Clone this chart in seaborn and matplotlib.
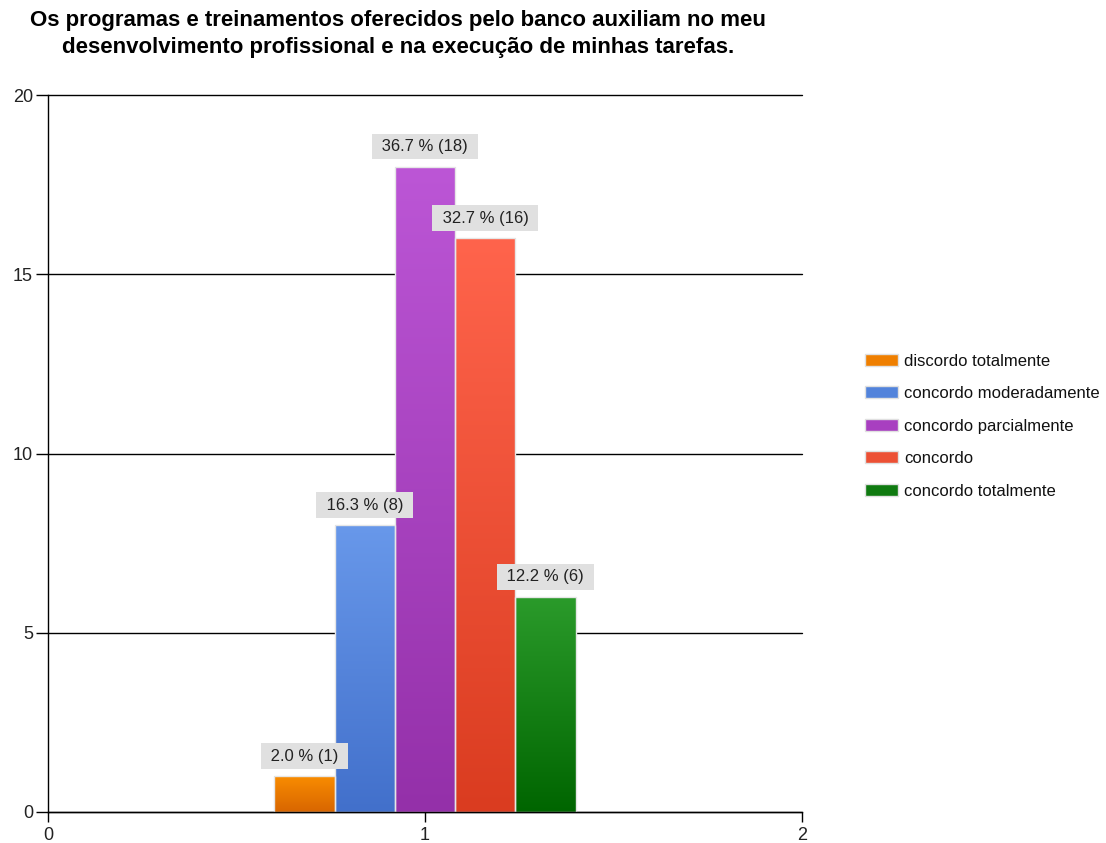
import numpy as np
import pandas as pd
import matplotlib
matplotlib.use("Agg")
import matplotlib.pyplot as plt
from matplotlib.colors import LinearSegmentedColormap
from matplotlib.patches import Patch
import seaborn as sns

# Survey answers and counts
categories = ["discordo totalmente", "concordo moderadamente", "concordo parcialmente",
              "concordo", "concordo totalmente"]
counts = [1, 8, 18, 16, 6]
percents = [2.0, 16.3, 36.7, 32.7, 12.2]
x_position = [1, 1, 1, 1, 1]

# Gradient colours per series (top, bottom)
top_colors = ["#f98c00", "#6898ea", "#bc56d6", "#ff644c", "#2b9b2b"]
bottom_colors = ["#d86600", "#4270cb", "#9430a9", "#da3c20", "#006500"]
legend_colors = ["#ef7f00", "#5283db", "#a83fc0", "#ec5034", "#0f7a10"]

title = ("Os programas e treinamentos oferecidos pelo banco auxiliam no meu\n"
         "desenvolvimento profissional e na execução de minhas tarefas.")

sns.set_theme(style="white")
plt.rcParams["font.family"] = ["Liberation Sans", "DejaVu Sans"]

df = pd.DataFrame({"pos": x_position, "resposta": categories, "n": counts})

fig = plt.figure(figsize=(11.06, 8.43), dpi=100)
ax = fig.add_axes([48 / 1106, 1 - 812 / 843, (802 - 48) / 1106, (812 - 95) / 843])

palette = dict(zip(categories, legend_colors))
sns.barplot(data=df, x="pos", y="n", hue="resposta", hue_order=categories,
            palette=palette, native_scale=True, width=0.8, ax=ax,
            legend=False, edgecolor="#e6e6e6", linewidth=1, saturation=1,
            errorbar=None)

# Vertical gradient inside every bar, value label above it
grad = np.linspace(0, 1, 256).reshape(-1, 1)
for container, c_top, c_bot, pct, n in zip(ax.containers, top_colors, bottom_colors,
                                          percents, counts):
    for bar in container:
        x0, w, h = bar.get_x(), bar.get_width(), bar.get_height()
        cmap = LinearSegmentedColormap.from_list("g", [c_bot, c_top])
        im = ax.imshow(grad, extent=[x0, x0 + w, 0, h], origin="lower",
                       aspect="auto", cmap=cmap, zorder=1.5, interpolation="bilinear")
        im.set_clip_path(bar)
        bar.set_facecolor("none")
        bar.set_zorder(2)
        ax.annotate(f" {pct:.1f} % ({n}) ", xy=(x0 + w / 2, h), xytext=(0, 14.5),
                    textcoords="offset points", ha="center", va="center",
                    fontsize=12, color="#222222", zorder=4,
                    bbox=dict(boxstyle="square,pad=0.32", fc="#e0e0e0", ec="none"))

ax.set_xlim(0, 2)
ax.set_ylim(0, 20)
ax.set_aspect("auto")

ax.set_xticks([0, 1, 2])
ax.set_xticklabels(["0", "1", "2"])
ax.set_yticks([0, 5, 10, 15, 20])
ax.set_xlabel("")
ax.set_ylabel("")
ax.tick_params(axis="both", direction="out", width=1, color="black",
               labelsize=13, labelcolor="#222222", bottom=True, left=True)
ax.tick_params(axis="x", length=7.2, pad=3.6)
ax.tick_params(axis="y", length=8.6, pad=2.2)

ax.grid(axis="y", color="black", linewidth=1)
ax.grid(axis="x", visible=False)
for gl in ax.get_ygridlines():
    gl.set_clip_on(False)
ax.set_axisbelow(True)

for side in ["top", "right"]:
    ax.spines[side].set_visible(False)
for side in ["left", "bottom"]:
    ax.spines[side].set_color("black")
    ax.spines[side].set_linewidth(1)
    ax.spines[side].set_zorder(5)

fig.text(398 / 1106, 1 - 34 / 843, title, ha="center", va="center",
         fontsize=16, fontweight="bold", color="black", linespacing=1.32)

handles = [Patch(facecolor=c, edgecolor="#e0e0e0", linewidth=1) for c in legend_colors]
fig.legend(handles, categories, loc="center left",
           bbox_to_anchor=(865 / 1106, 1 - 426 / 843), frameon=False,
           fontsize=12, handlelength=2.0, handleheight=0.72, handletextpad=0.36,
           labelspacing=1.05, borderpad=0, borderaxespad=0, labelcolor="#111111")

fig.savefig("out.png", dpi=100)
